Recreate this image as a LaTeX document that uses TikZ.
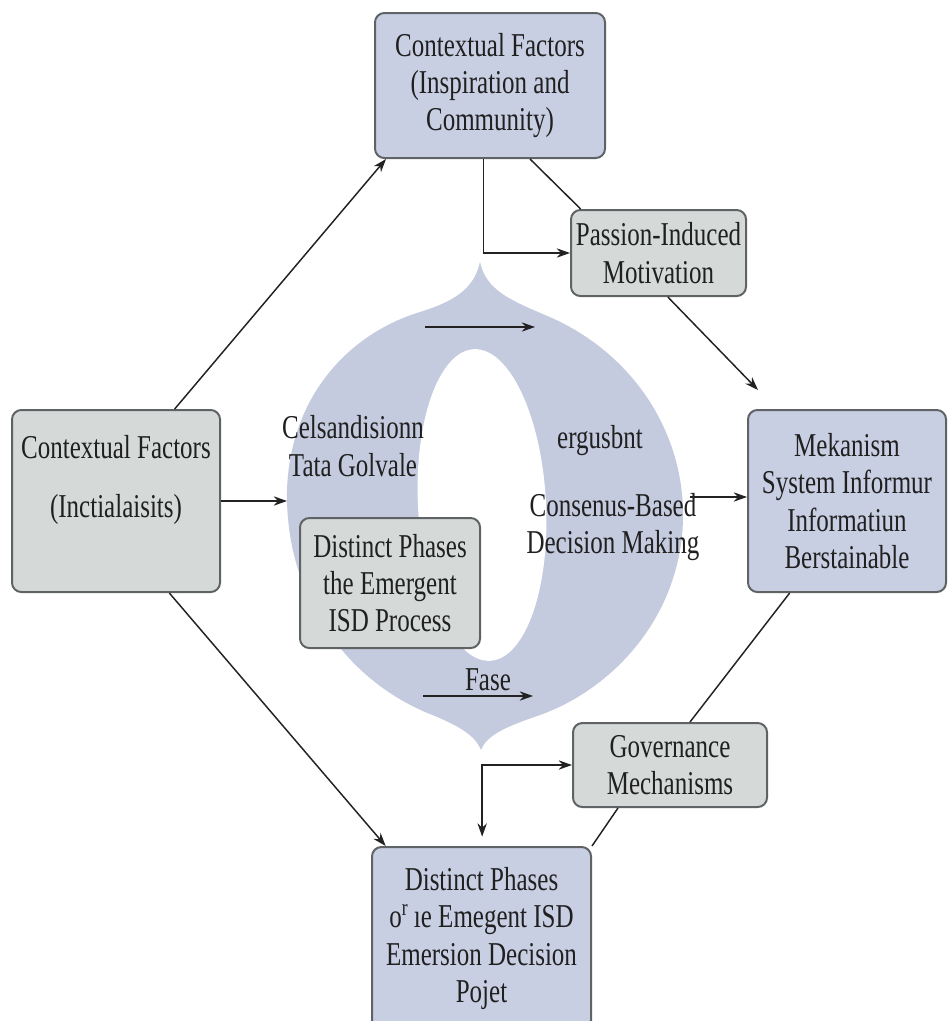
\documentclass[tikz,border=0pt]{standalone}
\usepackage{fontspec}
\setmainfont[FakeStretch=0.75]{Liberation Serif}
\usetikzlibrary{arrows.meta}
\definecolor{bluebox}{HTML}{C9CFE3}
\definecolor{graybox}{HTML}{D5DAD8}
\definecolor{ringcol}{HTML}{C5CBDF}
\definecolor{edgecol}{HTML}{5F6366}
\definecolor{txtcol}{HTML}{202020}
\definecolor{arrcol}{HTML}{222222}
\begin{document}
\begin{tikzpicture}[x=0.75pt,y=-0.75pt,
  every node/.style={text=txtcol, font=\fontsize{25}{28}\selectfont, align=center},
  boxbase/.style={draw=edgecol, line width=1.5pt, rounded corners=7pt, inner sep=0pt},
  bluenode/.style={boxbase, fill=bluebox},
  graynode/.style={boxbase, fill=graybox},
  arr/.style={draw=arrcol, line width=1.1pt, -{Stealth[length=10pt,width=7pt]}},
  dblarr/.style={draw=arrcol, line width=1.1pt, {Stealth[length=10pt,width=7pt]}-{Stealth[length=10pt,width=7pt]}},
  plain/.style={draw=arrcol, line width=1.1pt},
  lbl/.style={inner sep=0pt}
]
\clip (0,0) rectangle (948,1021);
\useasboundingbox (0,0) rectangle (948,1021);
\fill[white] (0,0) rectangle (948,1021);

% central ring shape
\fill[ringcol] (480,262) .. controls (486,290) and (510,300) .. (545,315)
  .. controls (630,350) and (685,430) .. (683,520)
  .. controls (680,620) and (610,690) .. (540,715)
  .. controls (505,727) and (487,735) .. (481,750)
  .. controls (475,735) and (458,725) .. (425,712)
  .. controls (340,675) and (285,590) .. (287,490)
  .. controls (290,400) and (345,335) .. (420,312)
  .. controls (452,302) and (474,290) .. (480,262) -- cycle;
\fill[white, rotate around={3:(482,505)}] (482,505) ellipse (64 and 156);

% boxes
\node[bluenode, minimum width=230*0.75pt, minimum height=145*0.75pt] (top) at (490,85.5)
  {Contextual Factors\\(Inspiration and\\Community)};
\node[graynode, minimum width=175*0.75pt, minimum height=86*0.75pt] (pas) at (658.5,253)
  {Passion-Induced\\Motivation};
\node[graynode, minimum width=208*0.75pt, minimum height=182*0.75pt] (lft) at (116,501)
  {Contextual Factors\\[16pt](Inctialaisits)\\\strut};
\node[bluenode, minimum width=198*0.75pt, minimum height=182*0.75pt] (rgt) at (847,501)
  {Mekanism\\System Informur\\Informatiun\\Berstainable};
\node[graynode, minimum width=180*0.75pt, minimum height=130*0.75pt] (inn) at (390,583)
  {Distinct Phases\\the Emergent\\ISD Process};
\node[graynode, minimum width=194*0.75pt, minimum height=84*0.75pt] (gov) at (670,765)
  {Governance\\Mechanisms};
\node[bluenode, minimum width=219*0.75pt, minimum height=183*0.75pt] (bot) at (481.5,938.5)
  {Distinct Phases\\o\textsuperscript{r}\,ıe Emegent ISD\\Emersion Decision\\Pojet};

% free labels
\node[lbl] (celsa) at (353,446) {Celsandisionn\\Tata Golvale};
\node[lbl] (ergu) at (600,441) {ergusbnt};
\node[lbl] (cons) at (613,527) {Consenus-Based\\Decision Making};
\node[lbl] (fase) at (488,680) {Fase};

% free coordinates
\coordinate (c4) at (758,390);
\coordinate (h1s) at (425,327);
\coordinate (h1e) at (535,327);
\coordinate (c6) at (287,501);
\coordinate (c7) at (690,497);
\coordinate (f1s) at (423,696);
\coordinate (f1e) at (533,696);

% connectors
\draw[arr] ([xshift=44pt]lft.north) -- ([xshift=9pt]top.south west);
\draw[arr] ([xshift=-5pt]top.south) |- (pas.west);
\draw[plain] ([xshift=30pt]top.south) -- ([xshift=8pt]pas.north west);
\draw[arr] ([xshift=7pt]pas.south) -- (c4);
\draw[arr] (h1s) -- (h1e);
\draw[arr] (lft.east) -- (c6);
\draw[arr] (c7) -- (c7 -| rgt.west);
\draw[arr] (f1s) -- (f1e);
\draw[arr] ([xshift=40pt]lft.south) -- ([xshift=11pt]bot.north west);
\draw[dblarr, shorten <=7pt] ([xshift=0.5pt]bot.north) |- (gov.west);
\draw[plain] ([xshift=15pt]gov.north) -- ([xshift=-43pt]rgt.south);
\draw[plain] (bot.north east) -- ([xshift=-39pt]gov.south);
\end{tikzpicture}
\end{document}
